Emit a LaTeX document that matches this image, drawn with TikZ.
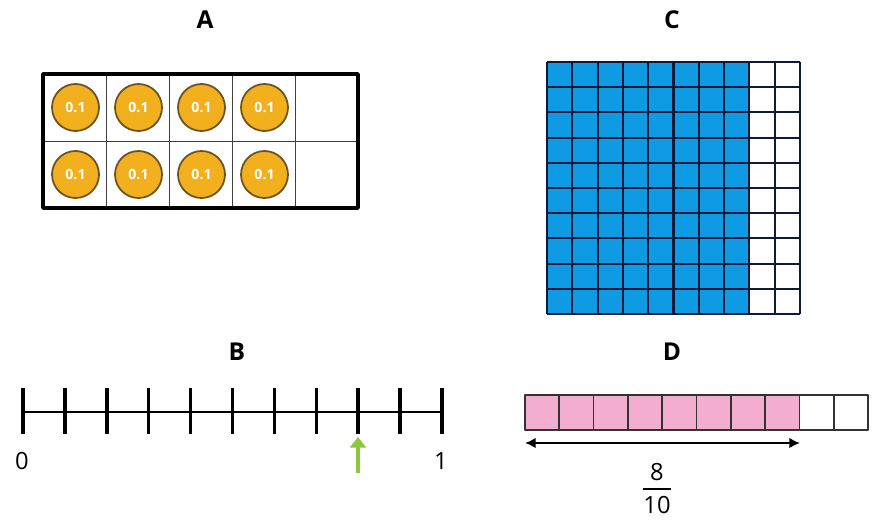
\documentclass[tikz,border=0pt]{standalone}
\usepackage{fontspec}
\setmainfont{Open Sans}
\usetikzlibrary{arrows.meta}
\definecolor{coinorange}{HTML}{F2B01E}
\definecolor{coinedge}{HTML}{6B5320}
\definecolor{gridblue}{HTML}{0F9BE3}
\definecolor{gridline}{HTML}{0E1A3A}
\definecolor{barpink}{HTML}{F2ADCF}
\definecolor{arrowgreen}{HTML}{8DC63F}
\tikzset{
    panel/.style={font=\bfseries\fontsize{14}{16}\selectfont},
    num/.style={font=\fontsize{13.5}{15}\selectfont, inner sep=0pt},
    coin/.style={circle, draw=coinedge, line width=1pt, fill=coinorange, minimum size=0.94cm,
        inner sep=0pt, text=white, font=\bfseries\fontsize{8}{9}\selectfont},
}
\begin{document}
\begin{tikzpicture}[x=0.02cm, y=-0.02cm, line join=round, >=stealth]
    \useasboundingbox (0,0) rectangle (872,520);
    % panel labels
    \node[panel] (labA) at (205,20) {A};
    \node[panel] (labC) at (672,20) {C};
    \node[panel] (labB) at (237,352) {B};
    \node[panel] (labD) at (672,352) {D};
    % A: ten frame with counters
    \foreach \c in {0,...,4} {
        \foreach \r in {0,1} {
            \draw[gray!50!black, thin] (43+\c*63, 74+\r*67) rectangle ++(63,67);
        }
    }
    \foreach \c in {0,...,3} {
        \foreach \r in {0,1} {
            \node[coin] (coin\c\r) at (43+32.5+\c*63, 74+33.5+\r*67) {0.1};
        }
    }
    \draw[line width=2pt] (43,74) rectangle (358,208);
    % C: hundred grid
    \fill[gridblue] (547,62) rectangle (749.4,314);
    \foreach \i in {0,...,10} {
        \draw[gridline, line width=1.2pt] (547+\i*25.3,62) -- (547+\i*25.3,314);
        \draw[gridline, line width=1.2pt] (547,62+\i*25.2) -- (800,62+\i*25.2);
    }
    % B: number line
    \draw[line width=1.3pt] (23,412) -- (442,412);
    \foreach \i in {0,...,10} {
        \draw[line width=2pt] (23+\i*41.9,388) -- (23+\i*41.9,434);
    }
    \node[num] (zero) at (22,461) {0};
    \node[num] (one) at (441,461) {1};
    \coordinate (arrowtail) at (358,473);
    \coordinate (arrowtip) at (358,437);
    \draw[arrowgreen, line width=2pt, -{Triangle[width=9pt, length=6pt]}] (arrowtail) -- (arrowtip);
    % D: fraction strip
    \foreach \i in {0,...,9} {
        \pgfmathparse{\i<8 ? 1 : 0}
        \ifnum\pgfmathresult=1
            \fill[barpink] (525+\i*34.3,395) rectangle ++(34.3,35);
        \fi
        \draw[black!80, line width=1pt] (525+\i*34.3,395) rectangle ++(34.3,35);
    }
    \coordinate (spanleft) at (525,443);
    \coordinate (spanright) at (800,443);
    \draw[line width=1.2pt, {Latex[length=6pt, width=6pt]}-{Latex[length=6pt, width=6pt]}] (spanleft) -- (spanright);
    \node[num] (numer) at (657,472) {8};
    \node[num] (denom) at (657,505) {10};
    \draw[line width=0.8pt] (643,489) -- (671,489);
\end{tikzpicture}
\end{document}
